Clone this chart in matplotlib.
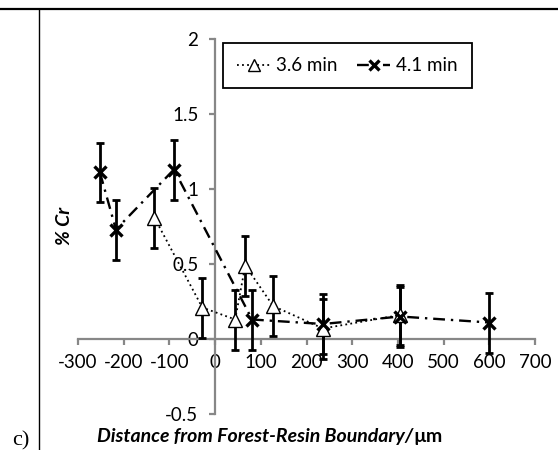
import numpy as np
import matplotlib.pyplot as plt
from matplotlib.lines import Line2D

# 3.6 min series (triangles, dotted)
x_36 = [-133, -28, 44, 66, 127, 236, 405]
y_36 = [0.81, 0.21, 0.13, 0.49, 0.22, 0.07, 0.16]
e_36 = [0.2, 0.2, 0.2, 0.2, 0.2, 0.2, 0.2]

# 4.1 min series (crosses, dash-dot)
x_41 = [-252, -217, -90, 81, 236, 405, 600]
y_41 = [1.11, 0.73, 1.13, 0.13, 0.10, 0.15, 0.11]
e_41 = [0.2, 0.2, 0.2, 0.2, 0.2, 0.2, 0.2]

x_ticks = [-300, -200, -100, 0, 100, 200, 300, 400, 500, 600, 700]
y_ticks = [-0.5, 0, 0.5, 1, 1.5, 2]
y_ticklabels = ['-0.5', '0', '0.5', '1', '1.5', '2']

W, H = 558, 450
plt.rcParams['font.family'] = ['Lato', 'DejaVu Sans']

fig = plt.figure(figsize=(W / 100, H / 100), dpi=100)
ax = fig.add_axes([78 / W, 1 - 414 / H, (535 - 78) / W, (414 - 39) / H])
ax.set_xlim(-300, 700)
ax.set_ylim(-0.5, 2)

grey = '#878787'
for s in ['top', 'right']:
    ax.spines[s].set_visible(False)
ax.spines['left'].set_position(('data', 0))
ax.spines['bottom'].set_position(('data', 0))
for s in ['left', 'bottom']:
    ax.spines[s].set_color(grey)
    ax.spines[s].set_linewidth(1.6)
ax.set_xticks(x_ticks)
ax.set_xticklabels([str(v) for v in x_ticks])
ax.set_yticks(y_ticks)
ax.set_yticklabels(y_ticklabels)
ax.tick_params(axis='both', direction='out', length=4, width=1.6, color=grey,
               labelsize=13.5, labelcolor='black')
ax.tick_params(axis='x', pad=7)
ax.tick_params(axis='y', pad=8)
ax.patch.set_alpha(0)

# lines + markers
ax.plot(x_36, y_36, color='black', lw=1.3, linestyle=(0, (1, 1.8)),
        marker='^', ms=9.5, mfc='white', mec='black', mew=1.0, zorder=4,
        label='3.6 min')
ax.plot(x_41, y_41, color='black', lw=1.7, linestyle=(0, (5, 2.5, 1, 2.5)),
        marker='x', ms=8.5, mec='black', mew=2.4, zorder=4, label='4.1 min')

# error bars
ax.errorbar(x_36, y_36, yerr=e_36, fmt='none', ecolor='black', elinewidth=2.0,
            capsize=3, capthick=2.0, zorder=3)
ax.errorbar(x_41, y_41, yerr=e_41, fmt='none', ecolor='black', elinewidth=2.0,
            capsize=3, capthick=2.0, zorder=3)

leg = ax.legend(loc='upper left', bbox_to_anchor=(223 / W, 1 - 43 / H),
                bbox_transform=fig.transFigure, ncol=2, fontsize=13.5,
                handlelength=1.8, handletextpad=0.3, columnspacing=1.0,
                borderaxespad=0, borderpad=0.75, fancybox=False, framealpha=1,
                edgecolor='black', markerscale=0.85)
leg.get_frame().set_linewidth(1.3)

# axis labels
fig.text(64 / W, 1 - 226 / H, '% Cr', rotation=90, ha='center', va='center',
         fontsize=14, fontweight='bold', fontstyle='italic')
t1 = fig.text(97 / W, 1 - 442 / H, 'Distance from Forest-Resin Boundary/',
              ha='left', va='baseline', fontsize=14, fontweight='bold',
              fontstyle='italic')
ax.annotate('\u00b5m', xy=(1, 0), xycoords=t1, ha='left', va='bottom',
            fontsize=14, fontweight='bold', annotation_clip=False)

# panel frame and label
fig.add_artist(Line2D([0, 1], [1 - 8.5 / H, 1 - 8.5 / H], color='black', lw=1.6,
                      transform=fig.transFigure))
fig.add_artist(Line2D([39 / W, 39 / W], [0, 1 - 8.5 / H], color='black', lw=1.0,
                      transform=fig.transFigure))
fig.text(12 / W, 1 - 431 / H, 'c)', ha='left', va='top', fontsize=16,
         family='Liberation Serif')

fig.savefig('out.png', dpi=100)
